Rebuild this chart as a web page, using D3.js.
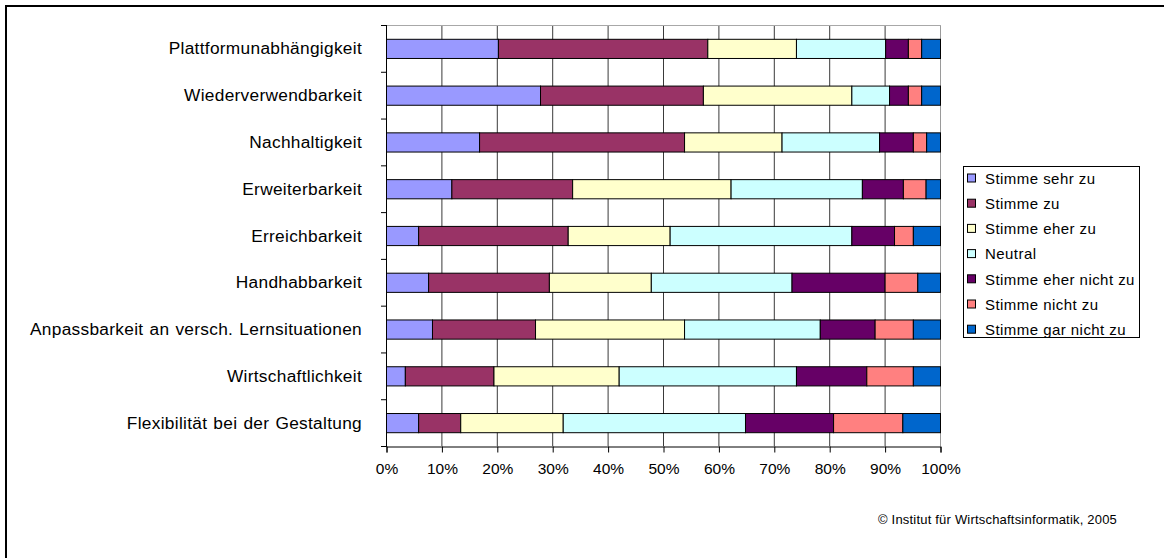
<!DOCTYPE html>
<html>
<head>
<meta charset="utf-8">
<script src="https://cdn.jsdelivr.net/npm/d3@7/dist/d3.min.js"></script>
<style>
  html, body { margin: 0; padding: 0; background: #fff; overflow: hidden; }
  svg { display: block; font-family: "Liberation Sans", Arial, sans-serif; }
</style>
</head>
<body>
<svg id="chart" width="1164" height="558"></svg>
<script>
// Survey answers per quality attribute, shares in percent (each row sums to ~100)
const categories = [
  "Plattformunabhängigkeit",
  "Wiederverwendbarkeit",
  "Nachhaltigkeit",
  "Erweiterbarkeit",
  "Erreichbarkeit",
  "Handhabbarkeit",
  "Anpassbarkeit an versch. Lernsituationen",
  "Wirtschaftlichkeit",
  "Flexibilität bei der Gestaltung"
];
const seriesNames = [
  "Stimme sehr zu",
  "Stimme zu",
  "Stimme eher zu",
  "Neutral",
  "Stimme eher nicht zu",
  "Stimme nicht zu",
  "Stimme gar nicht zu"
];
const stimmeSehrZu      = [20.2, 27.8, 16.8, 11.8,  5.8,  7.6,  8.3,  3.4,  5.8];
const stimmeZu          = [37.8, 29.4, 37.0, 21.8, 27.0, 21.8, 18.6, 16.0,  7.6];
const stimmeEherZu      = [16.0, 26.8, 17.6, 28.6, 18.4, 18.4, 26.9, 22.6, 18.5];
const neutral           = [16.1,  6.8, 17.6, 23.7, 32.8, 25.4, 24.5, 32.0, 32.9];
const stimmeEherNichtZu = [ 4.1,  3.4,  6.1,  7.4,  7.7, 16.8,  9.9, 12.7, 15.9];
const stimmeNichtZu     = [ 2.4,  2.4,  2.4,  4.1,  3.4,  5.9,  6.9,  8.4, 12.5];
const stimmeGarNichtZu  = [ 3.4,  3.4,  2.5,  2.6,  4.9,  4.1,  4.9,  4.9,  6.8];
const xTicks = [0, 10, 20, 30, 40, 50, 60, 70, 80, 90, 100];
const footnote = "© Institut für Wirtschaftsinformatik, 2005";

const seriesValues = [stimmeSehrZu, stimmeZu, stimmeEherZu, neutral,
                      stimmeEherNichtZu, stimmeNichtZu, stimmeGarNichtZu];
const colors = ["#9999FF", "#993366", "#FFFFCC", "#CCFFFF", "#660066", "#FF8080", "#0066CC"];

// Rows for the stack layout, normalised to 100 %
const rows = categories.map((c, i) => {
  const r = { category: c };
  const total = d3.sum(seriesValues, s => s[i]);
  seriesNames.forEach((n, k) => { r[n] = seriesValues[k][i] / total * 100; });
  return r;
});
const stacked = d3.stack().keys(seriesNames)(rows);

const svg = d3.select("#chart");

// outer frame (only its top and left edges fall inside the view)
svg.append("rect")
  .attr("x", 6).attr("y", 6).attr("width", 1170).attr("height", 570)
  .attr("fill", "none").attr("stroke", "#000").attr("stroke-width", 2);

const plot = { left: 386, right: 940, top: 25, bottom: 446 };

const x = d3.scaleLinear().domain([0, 100]).range([plot.left, plot.right]);
const y = d3.scaleBand().domain(categories)
  .range([plot.top, plot.bottom])
  .paddingInner(0.59).paddingOuter(0.295);

// vertical gridlines
svg.append("g").selectAll("line")
  .data(xTicks.slice(1))
  .join("line")
  .attr("x1", d => x(d) + 0.5).attr("x2", d => x(d) + 0.5)
  .attr("y1", plot.top).attr("y2", plot.bottom)
  .attr("stroke", d => d === 100 ? "#9a9a9a" : "#3a3a3a")
  .attr("stroke-width", 1);

// plot area top border
svg.append("line")
  .attr("x1", plot.left).attr("x2", plot.right + 1)
  .attr("y1", plot.top + 0.5).attr("y2", plot.top + 0.5)
  .attr("stroke", "#a8a8a8");

// stacked bars
svg.append("g").selectAll("g")
  .data(stacked)
  .join("g")
  .attr("fill", (d, i) => colors[i])
  .selectAll("rect")
  .data(d => d)
  .join("rect")
  .attr("x", d => x(d[0]) + 0.5)
  .attr("y", d => y(d.data.category) + 0.5)
  .attr("width", d => x(d[1]) - x(d[0]))
  .attr("height", y.bandwidth())
  .attr("stroke", "#000").attr("stroke-width", 1);

// category axis (left)
const step = y.step();
svg.append("line")
  .attr("x1", plot.left + 0.5).attr("x2", plot.left + 0.5)
  .attr("y1", plot.top).attr("y2", plot.bottom + 1)
  .attr("stroke", "#000");
svg.append("g").selectAll("line")
  .data(d3.range(categories.length + 1))
  .join("line")
  .attr("x1", plot.left - 5).attr("x2", plot.left)
  .attr("y1", i => plot.top + i * step + 0.5).attr("y2", i => plot.top + i * step + 0.5)
  .attr("stroke", "#000");
svg.append("g").selectAll("text")
  .data(categories)
  .join("text")
  .attr("x", 362)
  .attr("y", d => y(d) + y.bandwidth() / 2)
  .attr("dy", "0.35em")
  .attr("text-anchor", "end")
  .attr("font-size", 17.3)
  .attr("letter-spacing", 0.3)
  .attr("word-spacing", 1)
  .attr("fill", "#000")
  .text(d => d);

// value axis (bottom)
const xAxis = d3.axisBottom(x)
  .tickValues(xTicks)
  .tickFormat(d => d + "%")
  .tickSize(6)
  .tickPadding(10);
const gx = svg.append("g")
  .attr("transform", `translate(0.5,${plot.bottom + 0.5})`)
  .call(xAxis);
gx.select(".domain").attr("stroke", "#000");
gx.selectAll(".tick line").attr("stroke", "#000");
gx.selectAll(".tick text")
  .attr("font-size", 15.5)
  .attr("font-family", "Liberation Sans, Arial, sans-serif")
  .attr("fill", "#000");

// legend
const legend = svg.append("g");
legend.append("rect")
  .attr("x", 963.5).attr("y", 166.5).attr("width", 176).attr("height", 171)
  .attr("fill", "#fff").attr("stroke", "#000");
const li = legend.selectAll("g.item")
  .data(seriesNames)
  .join("g")
  .attr("class", "item")
  .attr("transform", (d, i) => `translate(0,${178.5 + i * 25.2})`);
li.append("rect")
  .attr("x", 967.5).attr("y", -4.5).attr("width", 8).attr("height", 8)
  .attr("fill", (d, i) => colors[i]).attr("stroke", "#000");
li.append("text")
  .attr("x", 985).attr("y", 0).attr("dy", "0.35em")
  .attr("font-size", 15)
  .attr("letter-spacing", 0.45)
  .attr("fill", "#000")
  .text(d => d);

// source note
svg.append("text")
  .attr("x", 878).attr("y", 524)
  .attr("font-size", 13)
  .attr("letter-spacing", 0.2)
  .attr("fill", "#000")
  .text(footnote);
</script>
</body>
</html>
